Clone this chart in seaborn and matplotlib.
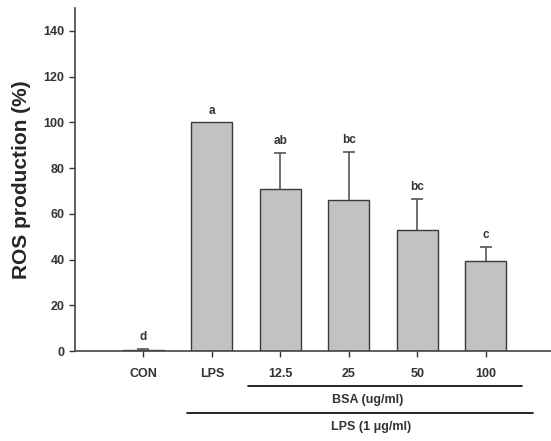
import numpy as np
import pandas as pd
import matplotlib
matplotlib.use("Agg")
import matplotlib.pyplot as plt
import matplotlib.transforms as mtransforms
import seaborn as sns

groups = ["CON", "LPS", "12.5", "25", "50", "100"]
ros = [0.5, 100.0, 71.0, 66.0, 52.8, 39.4]
ros_err = [0.6, 0.0, 15.5, 21.0, 13.6, 6.1]
letters = ["d", "a", "ab", "bc", "bc", "c"]

sns.set_style("ticks")
plt.rcParams["font.family"] = ["Liberation Sans", "DejaVu Sans"]
plt.rcParams["font.weight"] = "bold"

df = pd.DataFrame({"group": groups, "ros": ros, "err": ros_err})

fig = plt.figure(figsize=(5.51, 4.41), dpi=100)
ax = fig.add_axes([0.136, 0.204, 0.864, 0.778])

sns.barplot(data=df, x="group", y="ros", order=groups, color="#c2c2c2",
            edgecolor="#3a3a3a", linewidth=1.0, width=0.6, saturation=1,
            errorbar=None, ax=ax)

# upper-only error bars (skip groups with no error)
xs = np.arange(len(groups))
has_err = df["err"].to_numpy() > 0
eb = ax.errorbar(xs[has_err], df["ros"][has_err],
                 yerr=[np.zeros(has_err.sum()), df["err"][has_err]],
                 fmt="none", ecolor="#555555", elinewidth=1.2,
                 capsize=4, capthick=1.2)
eb[1][0].set_visible(False)

for x, v, e, lab in zip(xs, ros, ros_err, letters):
    ax.text(x, v + e + 2.5, lab, ha="center", va="bottom", fontsize=8.5,
            fontweight="bold", color="#333333")

ax.set_xlim(-1, 5.95)
ax.set_ylim(0, 150)
ax.set_yticks(range(0, 141, 20))
ax.set_xlabel("")
ax.set_ylabel("ROS production (%)", fontsize=15, fontweight="bold", labelpad=9)
ax.tick_params(axis="both", labelsize=9, colors="#333333", length=4, width=1)
for lab in ax.get_xticklabels() + ax.get_yticklabels():
    lab.set_fontweight("bold")
ax.tick_params(axis="x", pad=8)
sns.despine(ax=ax)
for s in ["left", "bottom"]:
    ax.spines[s].set_color("#444444")
    ax.spines[s].set_linewidth(1.2)

# group brackets under the axis
trans = mtransforms.blended_transform_factory(ax.transData, ax.transAxes)
ax.plot([1.52, 5.53], [-0.102, -0.102], color="black", lw=1.2,
        transform=trans, clip_on=False)
ax.text(3.27, -0.125, "BSA (ug/ml)", transform=trans, ha="center", va="top",
        fontsize=9, fontweight="bold", color="#333333")
ax.plot([0.64, 5.68], [-0.182, -0.182], color="black", lw=1.2,
        transform=trans, clip_on=False)
ax.text(3.33, -0.205, "LPS (1 μg/ml)", transform=trans, ha="center", va="top",
        fontsize=9, fontweight="bold", color="#333333")

fig.savefig("out.png", dpi=100)
